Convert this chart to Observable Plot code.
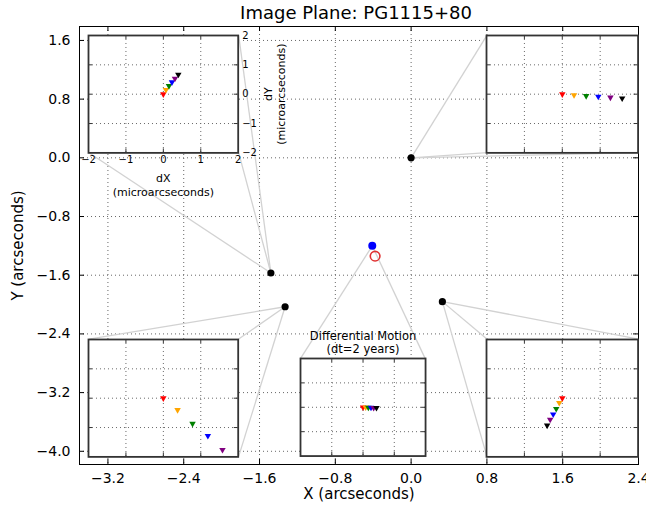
<!DOCTYPE html>
<html><head><meta charset="utf-8">
<script src="https://cdn.jsdelivr.net/npm/d3@7"></script>
<script src="https://cdn.jsdelivr.net/npm/@observablehq/plot@0.6"></script>
<style>
body{margin:0;background:#fff;}
#wrap{position:relative;width:646px;height:512px;overflow:hidden;font-family:"DejaVu Sans";}
</style>
</head><body><div id="wrap"></div>
<script>
// ---------- data ----------
const imageNames = ["A1", "A2", "B", "C"];
const imageX = [-1.33, -1.48, 0.33, 0.00];
const imageY = [-2.03, -1.57, -1.96, 0.00];
const sourceX = [-0.41];
const sourceY = [-1.20];
const lensX = [-0.38];
const lensY = [-1.34];
const epochColors = ["red", "orange", "green", "blue", "purple", "black"];
// differential motion (microarcseconds), one value per epoch
const dXA2 = [0, 0.07, 0.15, 0.23, 0.31, 0.40];
const dYA2 = [0, 0.15, 0.28, 0.41, 0.53, 0.67];
const dXC = [0, 0.31, 0.63, 0.95, 1.27, 1.58];
const dYC = [0, -0.03, -0.06, -0.08, -0.11, -0.14];
const dXA1 = [0, 0.38, 0.78, 1.19, 1.58, 1.98];
const dYA1 = [0, -0.40, -0.87, -1.28, -1.76, -2.20];
const dXB = [0, -0.08, -0.16, -0.24, -0.32, -0.40];
const dYB = [0, -0.16, -0.36, -0.55, -0.73, -0.93];
const dXS = [0, 0.085, 0.17, 0.255, 0.34, 0.43];
const dYS = [0, 0, -0.01, -0.01, -0.02, -0.02];
const xTicks = [-3.2, -2.4, -1.6, -0.8, 0, 0.8, 1.6, 2.4];
const yTicks = [-4.0, -3.2, -2.4, -1.6, -0.8, 0, 0.8, 1.6];
const insetTicks = [-2, -1, 0, 1, 2];
const insetGrid = [-1, 0, 1];

// ---------- layout ----------
const W = 646, H = 512;
const M = {top: 26, right: 8, bottom: 48, left: 79};
const xDomain = [-3.5, 2.4], yDomain = [-4.18, 1.79];
const innerW = W - M.left - M.right, innerH = H - M.top - M.bottom;
const font = "DejaVu Sans";
const gridStyle = {stroke: "#666", strokeOpacity: 1, strokeDasharray: "1,3", strokeWidth: 1};
const img = name => imageNames.indexOf(name);

const insets = [
  {tx: imageX[img("A2")], ty: imageY[img("A2")], x: [-3.4, -1.82], y: [0.07, 1.67], corners: ["bl", "tr", "br"], labels: true, dx: dXA2, dy: dYA2},
  {tx: imageX[img("C")], ty: imageY[img("C")], x: [0.8, 2.4], y: [0.07, 1.67], corners: ["tl", "bl", "br"], dx: dXC, dy: dYC},
  {tx: imageX[img("A1")], ty: imageY[img("A1")], x: [-3.4, -1.82], y: [-4.07, -2.47], corners: ["tl", "tr", "br"], dx: dXA1, dy: dYA1},
  {tx: imageX[img("B")], ty: imageY[img("B")], x: [0.8, 2.4], y: [-4.07, -2.47], corners: ["tl", "tr", "bl"], dx: dXB, dy: dYB},
  {tx: sourceX[0], ty: sourceY[0], x: [-1.17, 0.15], y: [-4.07, -2.74], corners: ["tl", "tr"], title: "Differential Motion\n(dt=2 years)", dx: dXS, dy: dYS}
];

const connectors = [];
for (const c of insets) {
  for (const k of c.corners) {
    connectors.push({
      x1: k[1] === "l" ? c.x[0] : c.x[1],
      y1: k[0] === "t" ? c.y[1] : c.y[0],
      x2: c.tx, y2: c.ty
    });
  }
}

const fmt = d => (d < 0 ? "\u2212" : "") + Math.abs(d).toFixed(1);
const fmtInt = d => (d < 0 ? "\u2212" : "") + Math.abs(d);
const tl = 5;

const main = Plot.plot({
  width: W, height: H,
  marginTop: M.top, marginRight: M.right, marginBottom: M.bottom, marginLeft: M.left,
  x: {domain: xDomain, axis: null},
  y: {domain: yDomain, axis: null},
  style: {fontFamily: font, background: "white", color: "black", overflow: "visible"},
  marks: [
    Plot.gridX(xTicks, gridStyle),
    Plot.gridY(yTicks, gridStyle),
    Plot.link(connectors, {x1: "x1", y1: "y1", x2: "x2", y2: "y2", stroke: "#d2d2d2", strokeWidth: 1.3}),
    Plot.tickX(xTicks, {x: d => d, insetTop: innerH - tl, stroke: "black"}),
    Plot.tickX(xTicks, {x: d => d, insetBottom: innerH - tl, stroke: "black"}),
    Plot.tickY(yTicks, {y: d => d, insetRight: innerW - tl, stroke: "black"}),
    Plot.tickY(yTicks, {y: d => d, insetLeft: innerW - tl, stroke: "black"}),
    Plot.frame({stroke: "black", strokeWidth: 1}),
    Plot.axisX(xTicks, {tickSize: 0, tickPadding: 9, tickFormat: fmt, fontSize: 14, label: null}),
    Plot.axisY(yTicks, {tickSize: 0, tickPadding: 9, tickFormat: fmt, fontSize: 14, label: null}),
    Plot.text(["Image Plane: PG1115+80"], {text: d => d, frameAnchor: "top", lineAnchor: "middle", textAnchor: "middle", dx: -3, dy: -13, fontSize: 18}),
    Plot.text(["X (arcseconds)"], {text: d => d, frameAnchor: "bottom", lineAnchor: "middle", textAnchor: "middle", dy: 30, fontSize: 15}),
    Plot.text(["Y (arcseconds)"], {text: d => d, frameAnchor: "left", lineAnchor: "middle", textAnchor: "middle", dx: -61, rotate: -90, fontSize: 15}),
    Plot.dot(imageNames, {x: (d, i) => imageX[i], y: (d, i) => imageY[i], r: 3.6, fill: "black"}),
    Plot.dot(lensX, {x: (d, i) => lensX[i], y: (d, i) => lensY[i], r: 4.8, stroke: "#e03232", strokeWidth: 1.6, fill: "none"}),
    Plot.dot(sourceX, {x: (d, i) => sourceX[i], y: (d, i) => sourceY[i], r: 4, fill: "#0000ff"})
  ]
});

const wrap = document.getElementById("wrap");
main.style.position = "absolute";
main.style.left = "0px";
main.style.top = "0px";
wrap.appendChild(main);

const sx = main.scale("x"), sy = main.scale("y");
const im = {top: 36, left: 14, right: 56, bottom: 52};

for (const c of insets) {
  const x0 = sx.apply(c.x[0]), x1 = sx.apply(c.x[1]);
  const yT = sy.apply(c.y[1]), yB = sy.apply(c.y[0]);
  const w = x1 - x0, h = yB - yT;
  const series = c.dx.map((v, i) => ({dx: v, dy: c.dy[i], color: epochColors[i]}));
  const marks = [
    Plot.frame({fill: "white", stroke: null}),
    Plot.gridX(insetGrid, gridStyle),
    Plot.gridY(insetGrid, gridStyle),
    Plot.tickX(insetGrid, {x: d => d, insetTop: h - 4, stroke: "#333"}),
    Plot.tickX(insetGrid, {x: d => d, insetBottom: h - 4, stroke: "#333"}),
    Plot.tickY(insetGrid, {y: d => d, insetRight: w - 4, stroke: "#333"}),
    Plot.tickY(insetGrid, {y: d => d, insetLeft: w - 4, stroke: "#333"}),
    Plot.dot(series, {x: "dx", y: "dy", fill: "color", symbol: "triangle", rotate: 180, r: 2.4, clip: true}),
    Plot.frame({stroke: "#333", strokeWidth: 1.8})
  ];
  if (c.labels) {
    marks.push(
      Plot.axisX(insetTicks, {tickSize: 0, tickPadding: 3, tickFormat: fmtInt, fontSize: 10, label: null}),
      Plot.axisY(insetTicks, {anchor: "right", tickSize: 0, tickPadding: 4, tickFormat: fmtInt, fontSize: 10, label: null}),
      Plot.text(["dX\n(microarcseconds)"], {text: d => d, frameAnchor: "bottom", lineAnchor: "middle", textAnchor: "middle", dy: 32, fontSize: 11, lineHeight: 1.27}),
      Plot.text(["dY\n(microarcseconds)"], {text: d => d, frameAnchor: "right", lineAnchor: "middle", textAnchor: "middle", dx: 36, rotate: -90, fontSize: 11, lineHeight: 1.2})
    );
  }
  if (c.title) {
    marks.push(Plot.text([c.title], {text: d => d, frameAnchor: "top", lineAnchor: "middle", textAnchor: "middle", dy: -16.5, fontSize: 11.5, lineHeight: 1.15}));
  }
  const p = Plot.plot({
    width: w + im.left + im.right, height: h + im.top + im.bottom,
    marginTop: im.top, marginLeft: im.left, marginRight: im.right, marginBottom: im.bottom,
    x: {domain: [-2, 2], axis: null},
    y: {domain: [-2, 2], axis: null},
    color: {type: "identity"},
    style: {fontFamily: font, background: "transparent", overflow: "visible", maxWidth: "none", color: "black"},
    marks
  });
  p.style.position = "absolute";
  p.style.left = (x0 - im.left) + "px";
  p.style.top = (yT - im.top) + "px";
  wrap.appendChild(p);
}
</script>
</body></html>
